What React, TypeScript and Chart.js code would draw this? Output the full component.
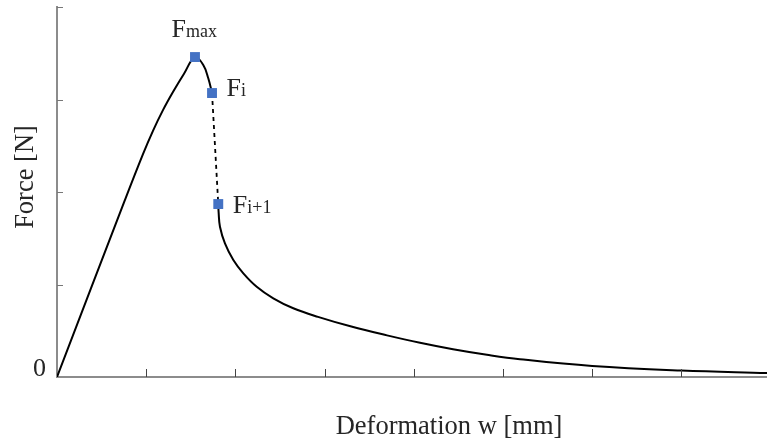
import React, { useEffect, useRef } from 'react';
import { Chart, registerables } from 'chart.js';

Chart.register(...registerables);

// Data (x: deformation, y: force)
const risingW = [0, 0.762, 0.964, 1.076, 1.188, 1.3, 1.424, 1.547, 1.64, 1.696, 1.738];
const risingF = [0, 1.914, 2.409, 2.661, 2.885, 3.081, 3.279, 3.459, 3.373, 3.229, 3.07];
const dropW = [1.738, 1.808];
const dropF = [3.07, 1.87];
const softW = [1.808, 1.812, 1.827, 1.883, 1.977, 2.089, 2.239, 2.425, 2.649, 2.926, 3.3, 3.7, 4.07, 4.44, 4.82, 5.19, 6.0, 7.0, 7.96];
const softF = [1.87, 1.78, 1.625, 1.445, 1.265, 1.121, 0.976, 0.851, 0.743, 0.65, 0.545, 0.45, 0.37, 0.3, 0.24, 0.192, 0.119, 0.07, 0.043];
const markerSubs = ['max', 'i', 'i+1'];
const markerW = [1.547, 1.738, 1.808];
const markerF = [3.459, 3.07, 1.87];
const xTicks = [1, 2, 3, 4, 5, 6, 7];
const yTicks = [1, 2, 3, 4];
const zeroLabel = '0';
const xTitle = 'Deformation w [mm]';
const yTitle = 'Force [N]';

const toPts = (xs: number[], ys: number[]) => xs.map((x, i) => ({ x, y: ys[i] }));

const labelOffsets = [
  { dx: -23.5, dy: -20 },
  { dx: 14.5, dy: 3 },
  { dx: 14.5, dy: 8.7 },
];

const SERIF = '"Liberation Serif", "Times New Roman", serif';
const TEXT = '#262626';

const decorPlugin = {
  id: 'decor',
  afterDraw(chart: any) {
    const ctx = chart.ctx as CanvasRenderingContext2D;
    const xs = chart.scales.x;
    const ys = chart.scales.y;
    const ca = chart.chartArea;
    ctx.save();
    // inner tick marks
    ctx.strokeStyle = '#444';
    ctx.lineWidth = 1;
    ctx.beginPath();
    xTicks.forEach((t) => {
      const px = Math.round(xs.getPixelForValue(t)) + 0.5;
      ctx.moveTo(px, ca.bottom);
      ctx.lineTo(px, ca.bottom - 8);
    });
    ctx.stroke();
    ctx.strokeStyle = '#777';
    ctx.beginPath();
    yTicks.forEach((t) => {
      const py = Math.round(ys.getPixelForValue(t)) + 0.5;
      ctx.moveTo(ca.left, py);
      ctx.lineTo(ca.left + 6, py);
    });
    ctx.stroke();

    ctx.fillStyle = TEXT;
    // zero label
    ctx.font = `26px ${SERIF}`;
    ctx.textAlign = 'right';
    ctx.textBaseline = 'alphabetic';
    ctx.fillText(zeroLabel, ca.left - 11, ys.getPixelForValue(0) - 1);

    // x title
    ctx.font = `26.5px ${SERIF}`;
    ctx.textAlign = 'center';
    ctx.fillText(xTitle, 449, 434);

    // y title
    ctx.save();
    ctx.translate(33, 177);
    ctx.rotate(-Math.PI / 2);
    ctx.textAlign = 'center';
    ctx.fillText(yTitle, 0, 0);
    ctx.restore();

    // point labels
    markerW.forEach((w, i) => {
      const px = xs.getPixelForValue(w) + labelOffsets[i].dx;
      const py = ys.getPixelForValue(markerF[i]) + labelOffsets[i].dy;
      ctx.textAlign = 'left';
      ctx.font = `26px ${SERIF}`;
      ctx.fillText('F', px, py);
      const fw = ctx.measureText('F').width;
      ctx.font = `18px ${SERIF}`;
      ctx.fillText(markerSubs[i], px + fw, py);
    });
    ctx.restore();
  },
};

export default function App() {
  const ref = useRef<HTMLCanvasElement | null>(null);
  useEffect(() => {
    if (!ref.current) return;
    const chart = new Chart(ref.current, {
      type: 'line',
      data: {
        datasets: [
          {
            data: toPts(risingW, risingF),
            borderColor: '#000',
            borderWidth: 2,
            pointRadius: 0,
            tension: 0.4,
            order: 2,
          },
          {
            data: toPts(dropW, dropF),
            borderColor: '#000',
            borderWidth: 1.8,
            borderDash: [4, 4],
            pointRadius: 0,
            order: 2,
          },
          {
            data: toPts(softW, softF),
            borderColor: '#000',
            borderWidth: 2,
            pointRadius: 0,
            tension: 0.4,
            order: 2,
          },
          {
            data: toPts(markerW, markerF),
            showLine: false,
            pointStyle: 'rect',
            pointRadius: 7,
            pointBackgroundColor: '#4472C4',
            pointBorderColor: '#4472C4',
            pointBorderWidth: 0,
            order: 1,
          },
        ],
      },
      options: {
        responsive: false,
        animation: false,
        layout: { autoPadding: false, padding: { left: 57, top: 7, right: 0, bottom: 66 } },
        plugins: { legend: { display: false }, tooltip: { enabled: false } },
        scales: {
          x: {
            type: 'linear',
            min: 0,
            max: 7.96,
            grid: { display: false, drawTicks: false },
            ticks: { display: false },
            border: { display: true, color: '#8c8c8c', width: 2 },
            afterFit: (s: any) => {
              s.height = 0;
            },
          },
          y: {
            type: 'linear',
            min: 0,
            max: 4,
            grid: { display: false, drawTicks: false },
            ticks: { display: false },
            border: { display: true, color: '#8c8c8c', width: 2 },
            afterFit: (s: any) => {
              s.width = 0;
            },
          },
        },
      },
      plugins: [decorPlugin],
    } as any);
    return () => chart.destroy();
  }, []);
  return (
    <div style={{ position: 'fixed', left: 0, top: 0, width: 767, height: 443, background: '#fff' }}>
      <canvas ref={ref} width={767} height={443} style={{ display: 'block' }} />
    </div>
  );
}
